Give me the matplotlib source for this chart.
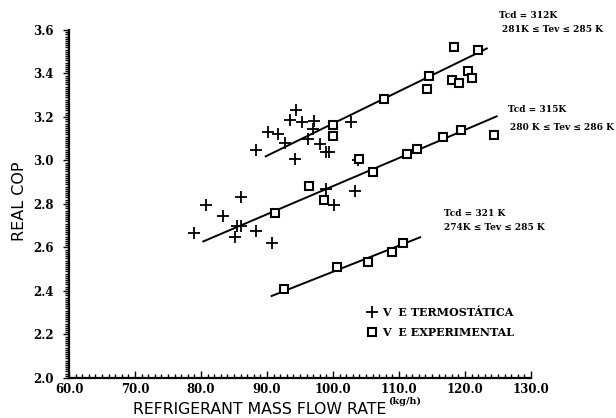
import numpy as np
import matplotlib.pyplot as plt
from matplotlib.ticker import MultipleLocator, FormatStrFormatter

# + points (V E termostatica)
plus_x = [94.4, 93.5, 95.3, 97.1, 96.9, 90.1, 91.7, 92.7, 96.2, 98.0, 99.0, 99.4,
          88.3, 94.2, 102.7, 103.8, 86.1, 80.8, 83.4, 78.9, 85.5, 86.1, 85.2, 88.4,
          90.7, 103.3, 99.0, 100.2]
plus_y = [3.232, 3.186, 3.175, 3.18, 3.147, 3.13, 3.12, 3.08, 3.10, 3.076, 3.04, 3.037,
          3.05, 3.005, 3.175, 3.004, 2.83, 2.795, 2.746, 2.668, 2.70, 2.70, 2.65, 2.676,
          2.622, 2.858, 2.868, 2.795]

# squares (V E experimental), one list per condensing temperature
sq312_x = [100.05, 100.05, 107.8, 114.6, 114.3, 118.3, 121.9, 118.1, 119.1, 120.5, 121.0]
sq312_y = [3.163, 3.114, 3.283, 3.39, 3.328, 3.52, 3.508, 3.37, 3.358, 3.41, 3.378]
sq315_x = [96.4, 98.6, 91.2, 104.0, 106.1, 111.2, 112.8, 116.7, 119.4, 124.4]
sq315_y = [2.883, 2.818, 2.76, 3.005, 2.945, 3.03, 3.055, 3.11, 3.14, 3.115]
sq321_x = [92.6, 100.6, 105.3, 109.0, 110.6]
sq321_y = [2.41, 2.512, 2.532, 2.578, 2.62]

# fitted lines (end points)
fit312_x, fit312_y = [89.8, 123.3], [3.019, 3.515]
fit315_x, fit315_y = [80.35, 124.8], [2.628, 3.203]
fit321_x, fit321_y = [90.7, 113.2], [2.377, 2.647]

labels_312 = ["Tcd = 312K", "281K \u2264 Tev \u2264 285 K"]
labels_315 = ["Tcd = 315K", "280 K \u2264 Tev \u2264 286 K"]
labels_321 = ["Tcd = 321 K", "274K \u2264 Tev \u2264 285 K"]

fig = plt.figure(figsize=(6.16, 4.18), dpi=100)
ax = fig.add_axes([69/616, 1-378/418, 462/616, 348/418])

ax.plot(fit312_x, fit312_y, c='k', lw=1.4)
ax.plot(fit315_x, fit315_y, c='k', lw=1.4)
ax.plot(fit321_x, fit321_y, c='k', lw=1.4)

hp, = ax.plot(plus_x, plus_y, ls='none', marker='+', ms=8, mew=1.3, c='k',
              label='V  E TERMOST\u00c1TICA')
sq_style = dict(ls='none', marker='s', ms=5.5, mew=1.5, mfc='white', mec='k')
hs, = ax.plot(sq312_x, sq312_y, label='V  E EXPERIMENTAL', **sq_style)
ax.plot(sq315_x, sq315_y, **sq_style)
ax.plot(sq321_x, sq321_y, **sq_style)

ax.set_xlim(60, 130)
ax.set_ylim(2.0, 3.6)
for s in ['top', 'right']:
    ax.spines[s].set_visible(False)
ax.spines['left'].set_linewidth(1.6)
ax.spines['bottom'].set_linewidth(1.6)

ax.xaxis.set_major_locator(MultipleLocator(10))
ax.xaxis.set_minor_locator(MultipleLocator(1))
ax.yaxis.set_major_locator(MultipleLocator(0.2))
ax.yaxis.set_minor_locator(MultipleLocator(0.01))
ax.xaxis.set_major_formatter(FormatStrFormatter('%.1f'))
ax.yaxis.set_major_formatter(FormatStrFormatter('%.1f'))
ax.tick_params(axis='x', which='both', direction='in', width=1)
ax.tick_params(axis='x', which='major', length=5)
ax.tick_params(axis='x', which='minor', length=3)
ax.tick_params(axis='y', which='both', direction='out', width=1)
ax.tick_params(axis='y', which='major', length=4, pad=7)
ax.tick_params(axis='y', which='minor', length=3)
for lab in ax.get_xticklabels() + ax.get_yticklabels():
    lab.set_family('DejaVu Serif')
    lab.set_fontweight('bold')
    lab.set_fontsize(8.5)

fig.text(20/616, 1-201/418, 'REAL COP', rotation=90,
         ha='center', va='center', fontsize=11.5, family='DejaVu Sans')
fig.text(260/616, 1-410/418, 'REFRIGERANT MASS FLOW RATE', ha='center', va='center',
         fontsize=11.3, family='DejaVu Sans')
fig.text(405/616, 1-401/418, '(kg/h)', ha='center', va='center',
         fontsize=7, family='DejaVu Serif', fontweight='bold')

ann = dict(fontsize=6.5, family='DejaVu Serif', fontweight='bold', ha='left', va='center')
fig.text(499/616, 1-15/418, labels_312[0], **ann)
fig.text(502/616, 1-30/418, labels_312[1], **ann)
fig.text(508/616, 1-110/418, labels_315[0], **ann)
fig.text(510/616, 1-127/418, labels_315[1], **ann)
fig.text(444/616, 1-213/418, labels_321[0], **ann)
fig.text(444/616, 1-228/418, labels_321[1], **ann)

leg = ax.legend(handles=[hp, hs], loc='upper left', bbox_to_anchor=(358/616, 1-297/418),
                bbox_transform=fig.transFigure, frameon=False, handlelength=0.8,
                handletextpad=0.5, labelspacing=0.8,
                prop=dict(family='DejaVu Serif', weight='bold', size=8))

fig.savefig('out.png', dpi=100)
